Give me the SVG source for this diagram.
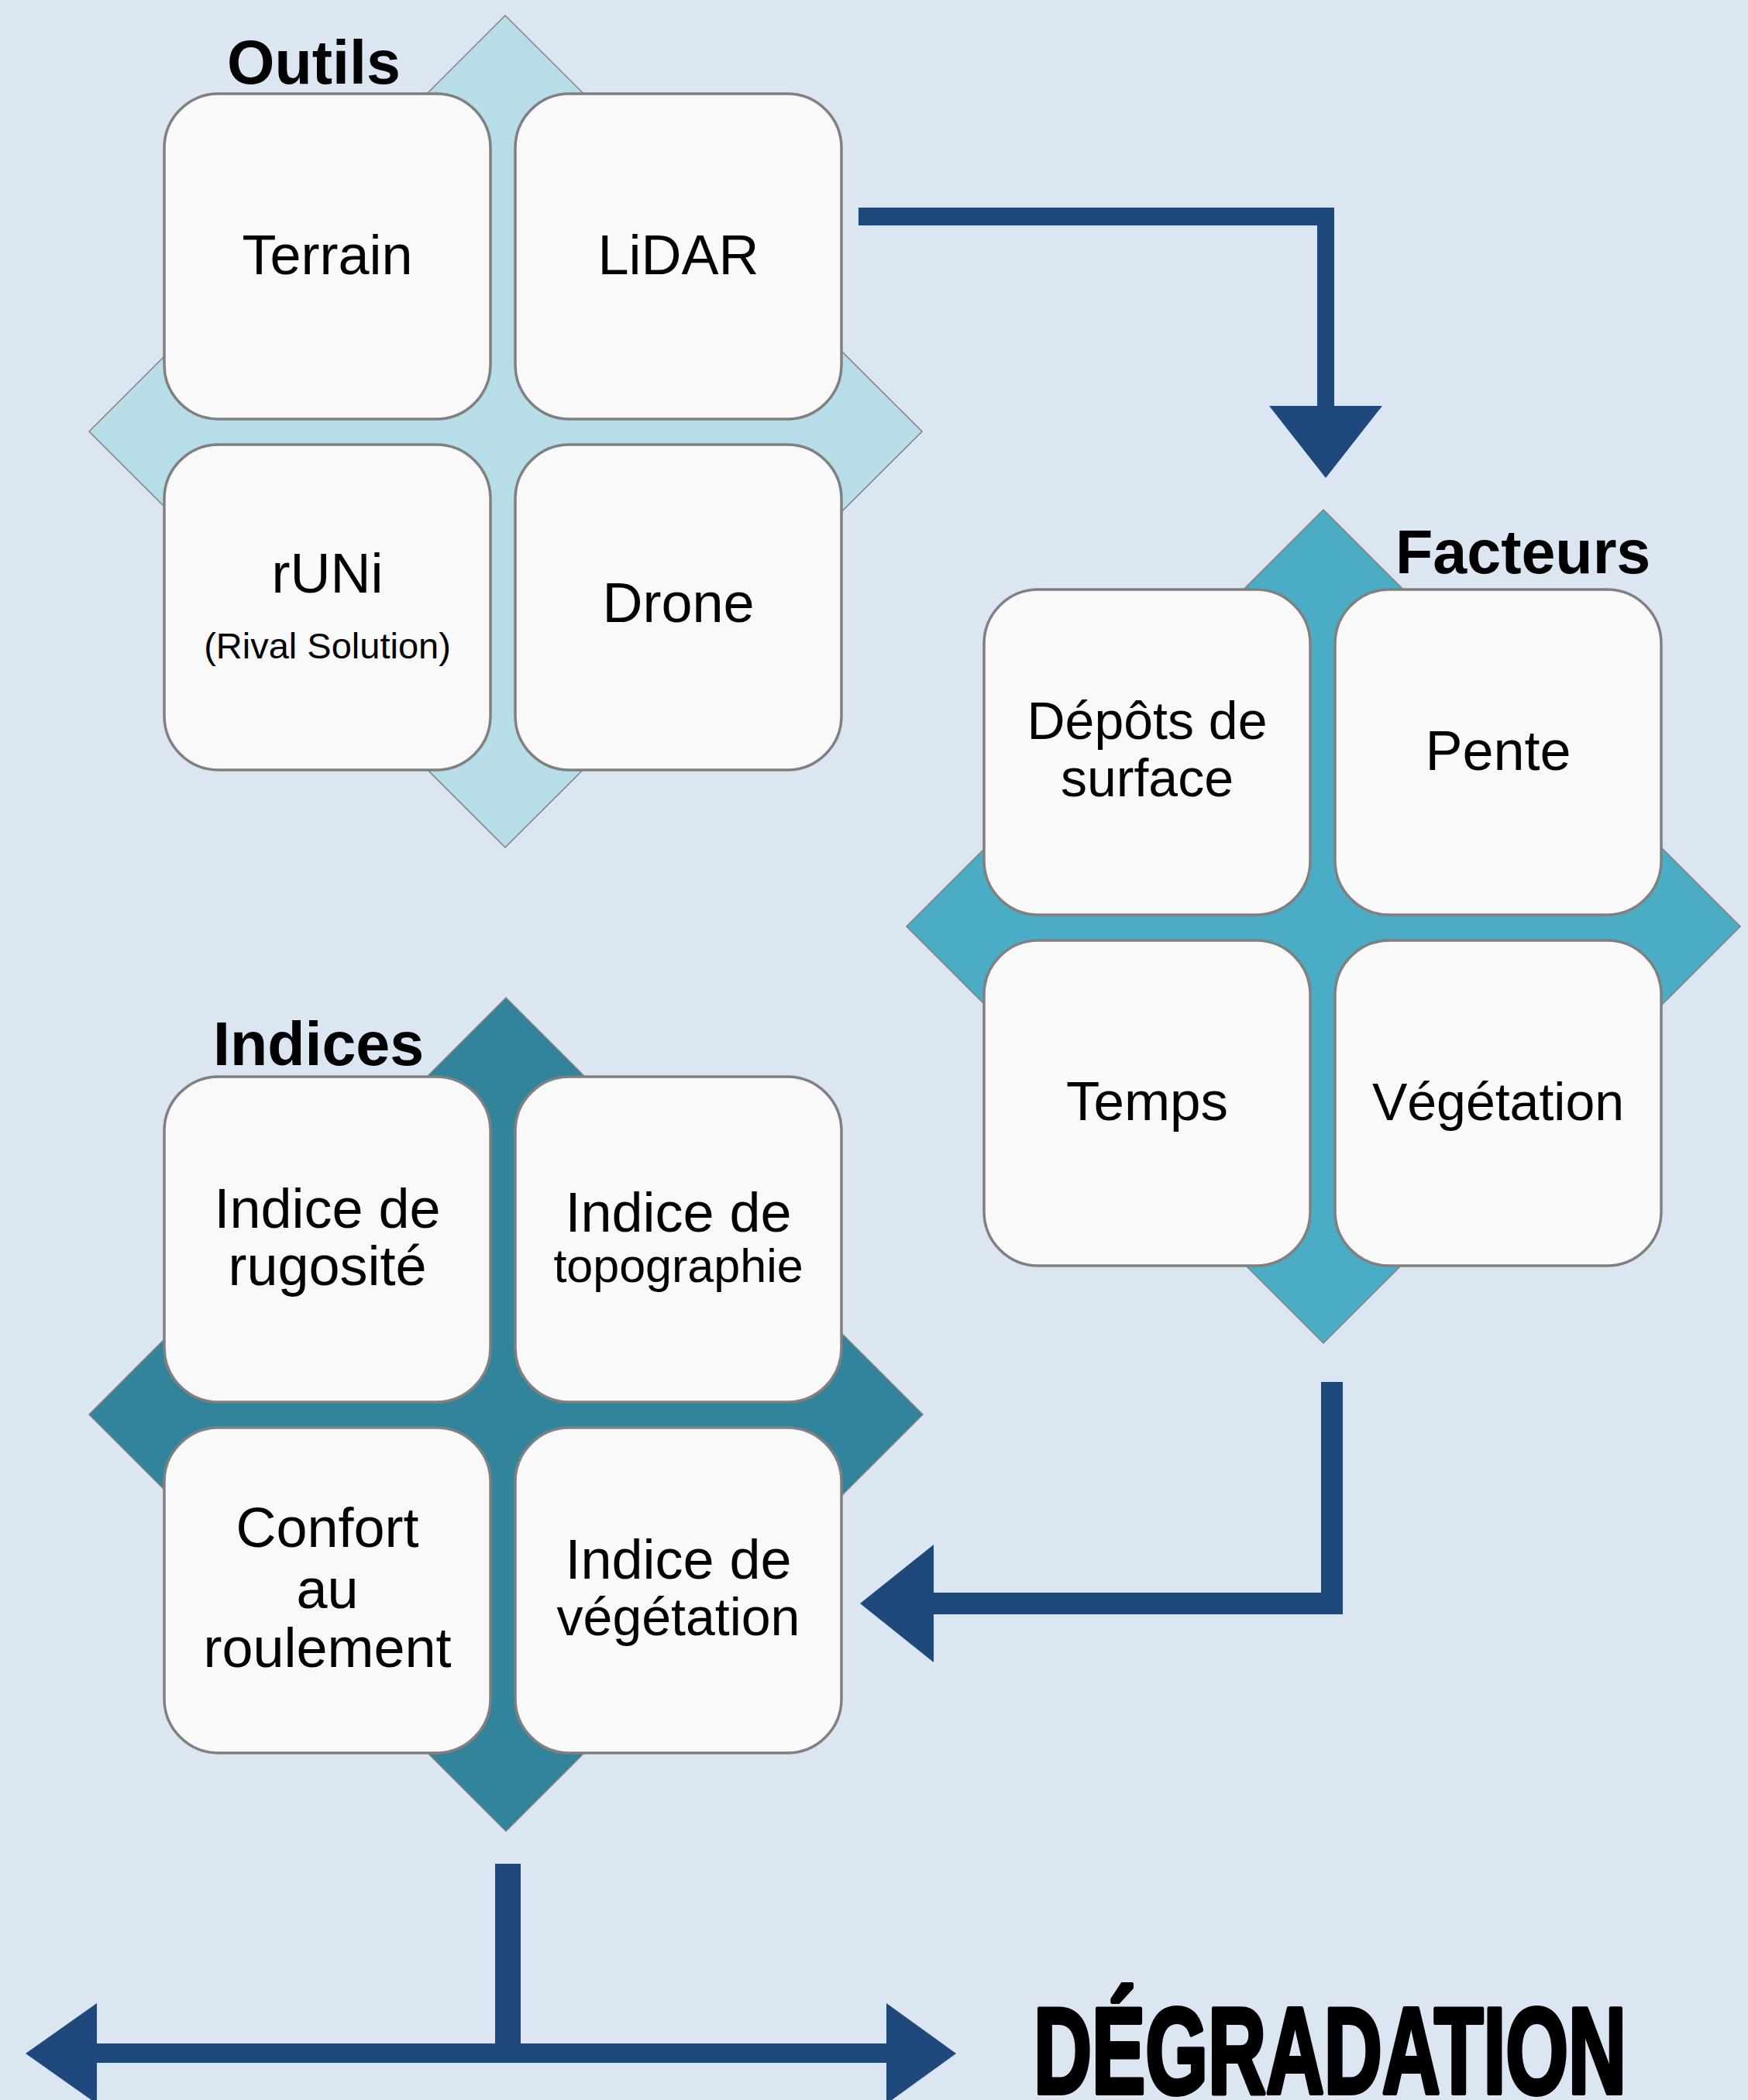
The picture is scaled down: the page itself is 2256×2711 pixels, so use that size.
<svg xmlns="http://www.w3.org/2000/svg" width="2256" height="2711" viewBox="0 0 2256 2711">
<style>
.bg{fill:#DCE6F2}
.box{fill:#F9F9F9;stroke:#808080;stroke-width:3.5}
.dia{stroke:#808080;stroke-width:1.5}
.t{font-family:"Liberation Sans",Arial,sans-serif;font-size:72px;fill:#000;text-anchor:middle}
.h{font-family:"Liberation Sans",Arial,sans-serif;font-size:79px;font-weight:bold;fill:#000}
.arr{fill:#1F497D}
</style>
<rect class="bg" x="0" y="0" width="2256" height="2711"/>

<g id="outils">
<polygon class="dia" fill="#B7DEE8" points="652,20 1190,557 652,1094 115,557"/>
<rect class="box" x="212" y="121" width="421" height="420" rx="70"/>
<rect class="box" x="665" y="121" width="421" height="420" rx="70"/>
<rect class="box" x="212" y="574" width="421" height="420" rx="70"/>
<rect class="box" x="665" y="574" width="421" height="420" rx="70"/>
<text class="h" x="293" y="108">Outils</text>
<text class="t" x="422.5" y="354">Terrain</text>
<text class="t" x="875.5" y="354">LiDAR</text>
<text class="t" x="422.5" y="765">rUNi</text>
<text class="t" x="422.5" y="850" style="font-size:47px">(Rival Solution)</text>
<text class="t" x="875.5" y="803">Drone</text>
</g>

<g id="facteurs">
<polygon class="dia" fill="#4BACC6" points="1708,658 2246,1196 1708,1734 1170,1196"/>
<rect class="box" x="1270" y="761" width="421" height="420" rx="70"/>
<rect class="box" x="1723" y="761" width="421" height="420" rx="70"/>
<rect class="box" x="1270" y="1214" width="421" height="420" rx="70"/>
<rect class="box" x="1723" y="1214" width="421" height="420" rx="70"/>
<text class="h" x="1801" y="740">Facteurs</text>
<text class="t" x="1480.5" y="954" style="font-size:68px">Dépôts de</text>
<text class="t" x="1480.5" y="1028" style="font-size:68px">surface</text>
<text class="t" x="1933.5" y="994">Pente</text>
<text class="t" x="1480.5" y="1446" style="font-size:71px">Temps</text>
<text class="t" x="1933.5" y="1446" style="font-size:68px">Végétation</text>
</g>

<g id="indices">
<polygon class="dia" fill="#31849B" points="653,1288 1191,1826 653,2364 115,1826"/>
<rect class="box" x="212" y="1390" width="421" height="420" rx="70"/>
<rect class="box" x="665" y="1390" width="421" height="420" rx="70"/>
<rect class="box" x="212" y="1843" width="421" height="420" rx="70"/>
<rect class="box" x="665" y="1843" width="421" height="420" rx="70"/>
<text class="h" x="275" y="1375">Indices</text>
<text class="t" x="422.5" y="1585">Indice de</text>
<text class="t" x="422.5" y="1659">rugosité</text>
<text class="t" x="875.5" y="1590">Indice de</text>
<text class="t" x="875.5" y="1655" style="font-size:61px">topographie</text>
<text class="t" x="422.5" y="1997">Confort</text>
<text class="t" x="422.5" y="2076">au</text>
<text class="t" x="422.5" y="2152">roulement</text>
<text class="t" x="875.5" y="2038">Indice de</text>
<text class="t" x="875.5" y="2111" style="font-size:68px">végétation</text>
</g>

<g id="degradation">
<text x="1334" y="2702" textLength="765" lengthAdjust="spacingAndGlyphs" style="font-family:'Liberation Sans',Arial,sans-serif;font-size:158px;font-weight:bold;fill:#000;stroke:#000;stroke-width:6;stroke-linejoin:round">DÉGRADATION</text>
</g>

<g id="connectors">
<polygon class="arr" points="1108,268 1722,268 1722,524 1784,524 1711,617 1638,524 1700,524 1700,291 1108,291"/>
<polygon class="arr" points="1705,1784 1733,1784 1733,2084 1205,2084 1205,2146 1110,2070 1205,1994 1205,2056 1705,2056"/>
<polygon class="arr" points="639,2406 672,2406 672,2638 1144,2638 1144,2586 1234,2651 1144,2716 1144,2663 125,2663 125,2716 33,2651 125,2586 125,2638 639,2638"/>
</g>
</svg>
